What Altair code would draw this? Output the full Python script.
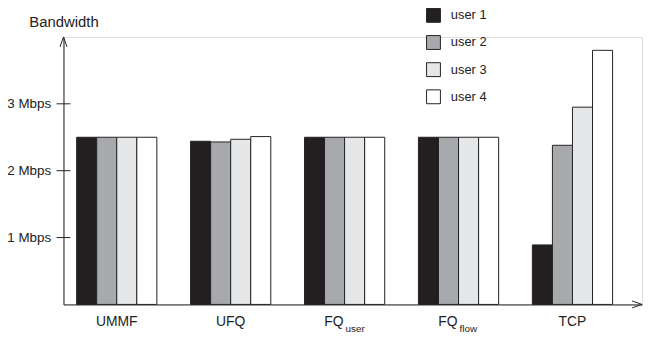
import altair as alt
import pandas as pd

# ---- data ----
categories = ["UMMF", "UFQ", "FQuser", "FQflow", "TCP"]
users = ["user 1", "user 2", "user 3", "user 4"]
ummf = [2.5, 2.5, 2.5, 2.5]
ufq = [2.44, 2.43, 2.47, 2.51]
fq_user = [2.5, 2.5, 2.5, 2.5]
fq_flow = [2.5, 2.5, 2.5, 2.5]
tcp = [0.89, 2.38, 2.95, 3.80]
user_colors = ["#231f20", "#a7a9ac", "#e6e7e8", "#ffffff"]
tick_values = [1, 2, 3]
label_main = ["UMMF", "UFQ", "FQ", "FQ", "TCP"]
label_sub = ["", "", "user", "flow", ""]

series = [ummf, ufq, fq_user, fq_flow, tcp]
rows = []
for c, vals in zip(categories, series):
    for u, v in zip(users, vals):
        rows.append({"cat": c, "user": u, "bw": v})
df = pd.DataFrame(rows)
labels_df = pd.DataFrame({"cat": categories, "main": label_main, "sub": label_sub})
ticks_df = pd.DataFrame({"v": tick_values})
one = pd.DataFrame({"a": [0]})

W, H = 584, 270
INK = "#222222"
FONT = "Liberation Sans"

xscale = alt.Scale(domain=categories, paddingInner=0.296, paddingOuter=0.187, align=0.309)
yscale = alt.Scale(domain=[0, 4], nice=False)

bars = alt.Chart(df).mark_bar(stroke=INK, strokeWidth=1, opacity=1).encode(
    x=alt.X("cat:N", scale=xscale, sort=categories,
            axis=alt.Axis(title=None, labels=False, ticks=False, domainColor=INK, domainWidth=1)),
    xOffset=alt.XOffset("user:N", sort=users, scale=alt.Scale(paddingInner=0, paddingOuter=0)),
    y=alt.Y("bw:Q", scale=yscale,
            axis=alt.Axis(values=tick_values, labelExpr="datum.value + ' Mbps'", ticks=False,
                          grid=False, labelPadding=13, labelFontSize=13.5, labelColor=INK,
                          labelFont=FONT, domainColor=INK, domainWidth=1,
                          title="Bandwidth", titleAngle=0, titleAlign="center",
                          titleBaseline="alphabetic", titleX=0, titleY=-10.7,
                          titleFontSize=15, titleFontWeight="normal", titleColor=INK,
                          titleFont=FONT)),
    fill=alt.Fill("user:N", sort=users, scale=alt.Scale(domain=users, range=user_colors),
                  legend=alt.Legend(title=None, orient="none", legendX=366, legendY=-29.3,
                                    symbolType="square", symbolSize=196,
                                    symbolStrokeColor=INK, symbolStrokeWidth=1,
                                    symbolOpacity=1,
                                    labelFontSize=13, labelFont=FONT, labelColor=INK,
                                    labelOffset=10, rowPadding=8.4, padding=0)),
)

yticks = alt.Chart(ticks_df).mark_rule(color=INK, strokeWidth=1).encode(
    y=alt.Y("v:Q", scale=yscale),
    x=alt.value(-7),
    x2=alt.value(7),
)

y_arrow = alt.Chart(one).mark_point(
    shape="M-0.7,2L0,0L0.7,2", filled=False, stroke=INK, strokeWidth=1, size=100, opacity=1
).encode(x=alt.value(0), y=alt.datum(4, scale=yscale))

x_arrow = alt.Chart(one).mark_point(
    shape="M-2,-0.7L0,0L-2,0.7", filled=False, stroke=INK, strokeWidth=1, size=100, opacity=1
).encode(x=alt.value(W), y=alt.datum(0, scale=yscale))

plain = alt.Chart(labels_df).transform_filter("datum.sub == ''").mark_text(
    align="center", baseline="alphabetic", fontSize=14, font=FONT, color=INK
).encode(x=alt.X("cat:N", scale=xscale, sort=categories), y=alt.value(H + 22), text="main:N")

fq_main = alt.Chart(labels_df).transform_filter("datum.sub != ''").mark_text(
    align="right", baseline="alphabetic", fontSize=14, font=FONT, color=INK, dx=-1
).encode(x=alt.X("cat:N", scale=xscale, sort=categories), y=alt.value(H + 22), text="main:N")

fq_sub = alt.Chart(labels_df).transform_filter("datum.sub != ''").mark_text(
    align="left", baseline="alphabetic", fontSize=10, font=FONT, color=INK, dx=1
).encode(x=alt.X("cat:N", scale=xscale, sort=categories), y=alt.value(H + 28.3), text="sub:N")

chart = alt.layer(bars, yticks, y_arrow, x_arrow, plain, fq_main, fq_sub).properties(
    width=W, height=H,
    autosize=alt.AutoSizeParams(type="none"),
    padding={"left": 56, "top": 27.7, "right": 2, "bottom": 28},
    background="white",
).configure_view(stroke=None).configure(font=FONT)

chart.save("out.html", embed_options={"renderer": "svg", "actions": False})
